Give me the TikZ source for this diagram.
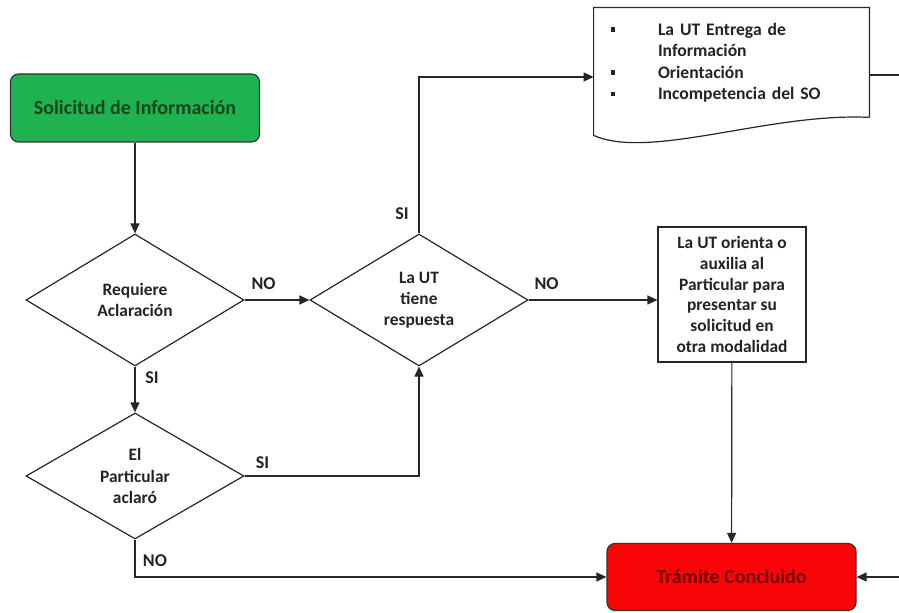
\documentclass[tikz,border=0pt]{standalone}
\usepackage{fontspec}
\setmainfont{Carlito}
\usetikzlibrary{arrows.meta,positioning,calc,shapes.geometric}
\definecolor{flowgreen}{RGB}{30,178,80}
\definecolor{flowred}{RGB}{250,5,5}
\definecolor{flowtext}{RGB}{35,35,35}
\definecolor{greentext}{RGB}{20,70,30}
\definecolor{redtext}{RGB}{110,0,0}
\newcommand{\bulsq}{\makebox[24.5pt][l]{\hspace{1pt}\rule[1.6pt]{2.2pt}{2.2pt}}}

\begin{document}
\begin{tikzpicture}[
  x=0.5pt, y=-0.5pt,
  terminal/.style={draw=black!80, rounded corners=4pt, line width=0.6pt,
              minimum width=124.5pt, minimum height=34pt,
              font=\fontsize{10}{12}\selectfont\bfseries},
  decision/.style={draw=black!85, diamond, line width=0.6pt, inner sep=0pt,
              minimum width=109pt, minimum height=66pt, align=center,
              text=flowtext, font=\fontsize{8.7}{10.6}\selectfont\bfseries},
  proceso/.style={draw=black!85, line width=0.6pt, inner sep=0pt,
              minimum width=74pt, minimum height=67.5pt, align=center,
              text=flowtext, font=\fontsize{8.7}{10.4}\selectfont\bfseries},
  etiqueta/.style={inner sep=0pt, text=flowtext,
              font=\fontsize{9}{11}\selectfont\bfseries},
  linea/.style={draw=black!85, line width=0.6pt},
  flecha/.style={linea, -{Triangle[length=5pt,width=4.5pt]}}
]
\useasboundingbox (0,0) rectangle (899,613);

% Inicio y decisiones
\node[terminal, fill=flowgreen, text=greentext] (inicio) at (135,108) {Solicitud de Información};
\node[decision] (aclara) at (135,300) {Requiere\\Aclaración};
\node[decision, minimum height=63pt] (particular) at (135,476) {El\\Particular\\aclaró};
\node[decision] (tiene) at (419,300) {La UT\\tiene\\respuesta};

% Documento
\node[inner xsep=7.5pt, inner ysep=0pt, text width=122.5pt, minimum height=54.5pt,
      align=left, text=flowtext, font=\fontsize{8.8}{10.75}\selectfont\bfseries]
      (doc) at (731.5,62.5)
      {\bulsq La UT Entrega de\\\hspace*{24.5pt}Información\\\bulsq Orientación\\\bulsq Incompetencia del SO};
\draw[linea] (doc.south east) -- (doc.north east) -- (doc.north west)
  -- ($(doc.south west)+(0,18)$)
  .. controls ($(doc.south west)+(56,43)$) and ($(doc.south west)+(176,-5)$) .. (doc.south east);

% Proceso y fin
\node[proceso] (orienta) at (732,294.5) {La UT orienta o\\auxilia al\\Particular para\\presentar su\\solicitud en\\otra modalidad};
\node[terminal, fill=flowred, text=redtext, minimum height=33.5pt] (fin) at (731.5,577) {Trámite Concluido};

% Conectores
\coordinate (afuera) at (912,75);
\draw[flecha] (inicio) -- (aclara);
\draw[flecha] (aclara) -- (tiene);
\draw[flecha] (aclara) -- (particular);
\draw[flecha] (particular.east) -| (tiene.south);
\draw[flecha] (particular.south) |- (fin.west);
\draw[flecha] (tiene.north) |- ($(doc.west)+(0,14.5)$);
\draw[flecha] (tiene.east) -- (tiene.east -| orienta.west);
\draw[flecha] (orienta) -- (fin);
\draw[linea] ($(doc.east)+(0,12.5)$) -- (afuera);
\draw[flecha] (afuera) |- (fin.east);

% Etiquetas
\node[etiqueta] (noA) at ($(aclara.east)+(19,-16)$) {NO};
\node[etiqueta] (siA) at ($(aclara.south)+(17,11)$) {SI};
\node[etiqueta] (siP) at ($(particular.east)+(18,-13)$) {SI};
\node[etiqueta] (noP) at ($(particular.south)+(20,21)$) {NO};
\node[etiqueta] (siT) at ($(tiene.north)+(-17,-20)$) {SI};
\node[etiqueta] (noT) at ($(tiene.east)+(18,-16)$) {NO};

\end{tikzpicture}
\end{document}
